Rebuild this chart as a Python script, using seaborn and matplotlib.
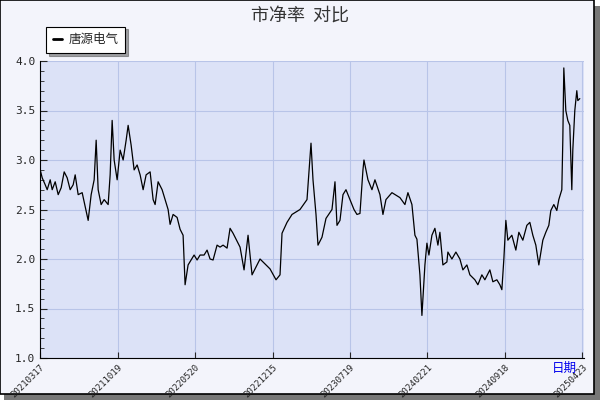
import matplotlib
matplotlib.use("Agg")
import matplotlib.pyplot as plt
import seaborn as sns
import pandas as pd
from matplotlib.ticker import MultipleLocator
from matplotlib.patches import Rectangle

px = [40,42,45,47,50,52,55,58,61,64,67,70,73,75,78,82,85,88,91,94,96,98,101,104,108,110,112,114,117,120,123,126,128,131,134,137,140,143,146,150,153,155,158,162,165,168,170,173,177,180,183,185,188,191,194,197,200,204,207,210,213,217,220,223,227,230,233,
      236,240,244,248,252,260,270,276,280,282,287,292,300,307,311,313,316,318,322,326,332,335,337,340,343,346,350,354,357,360,363,364,368,372,375,380,383,386,392,400,405,408,412,415,417,420,422,425,
      427,429,432,435,438,440,443,447,448,452,456,460,463,467,470,475,478,482,485,490,493,497,500,502,504,506,508,512,516,519,523,527,530,533,536,539,543,546,549,551,554,557,559,562,563,564,566,568,570,572,573,575,577,578,580]
value = [2.9,2.82,2.75,2.7,2.8,2.7,2.78,2.65,2.72,2.88,2.82,2.7,2.75,2.85,2.65,2.67,2.53,2.39,2.65,2.8,3.2,2.7,2.55,2.6,2.55,2.85,3.4,3.0,2.8,3.1,3.0,3.2,3.35,3.15,2.9,2.95,2.85,2.7,2.85,2.88,2.6,2.55,2.78,2.7,2.6,2.5,2.35,2.45,2.42,2.3,2.24,1.74,1.94,1.99,2.04,1.99,2.04,2.04,2.09,2.0,1.99,2.14,2.12,2.14,2.11,2.31,2.26,
         2.2,2.12,1.89,2.24,1.84,2.0,1.9,1.79,1.84,2.26,2.37,2.45,2.5,2.6,3.17,2.8,2.45,2.14,2.22,2.41,2.5,2.78,2.34,2.39,2.65,2.7,2.6,2.5,2.45,2.46,2.9,3.0,2.8,2.7,2.8,2.65,2.45,2.6,2.67,2.62,2.55,2.67,2.55,2.24,2.2,1.84,1.43,1.94,
         2.16,2.04,2.24,2.31,2.14,2.27,1.94,1.97,2.07,2.0,2.07,2.0,1.89,1.94,1.84,1.79,1.74,1.84,1.79,1.89,1.77,1.79,1.74,1.69,2.0,2.39,2.19,2.24,2.09,2.27,2.19,2.34,2.37,2.24,2.14,1.94,2.19,2.27,2.34,2.49,2.55,2.49,2.6,2.7,3.2,3.93,3.5,3.4,3.35,2.7,3.1,3.5,3.7,3.6,3.62]
tick_days = [0,155,310,465,620,775,930,1085]
tick_labels = ["20210317","20211019","20220520","20221215","20230719","20240221","20240918","20250423"]
series_name = "唐源电气"

day = [(p - 40) * 2 for p in px]
df = pd.DataFrame({"day": day, "value": value})

sns.set_style("white")
plt.rcParams['font.family'] = ['Noto Sans CJK SC', 'DejaVu Sans']

fig = plt.figure(figsize=(6, 4), dpi=100, facecolor="#f3f4fb")
ax = fig.add_axes([0.067, 0.105, 0.906, 0.7425])
ax.set_facecolor("#dce2f7")
sns.lineplot(data=df, x="day", y="value", ax=ax, color="black", linewidth=0.9, label=series_name)

ax.set_xlim(0, 1088)
ax.set_ylim(1.0, 4.0)
ax.set_xticks(tick_days)
ax.set_xticklabels(tick_labels, rotation=45, ha="right", va="top", rotation_mode="anchor",
                   fontsize=6.5, family="DejaVu Sans Mono")
ax.yaxis.set_major_locator(MultipleLocator(0.5))
ax.yaxis.set_minor_locator(MultipleLocator(0.1))
ax.yaxis.set_major_formatter(matplotlib.ticker.FormatStrFormatter("%.1f"))
for t in ax.get_yticklabels():
    t.set_family("DejaVu Sans Mono"); t.set_fontsize(8)
ax.tick_params(axis="y", which="major", direction="in", length=5, left=True)
ax.tick_params(axis="y", which="minor", direction="in", length=3, left=True)
ax.tick_params(axis="x", direction="in", length=4, bottom=True, pad=3)
ax.grid(True, color="#b8c4e8", linewidth=0.8)
for s in ["top", "right"]:
    ax.spines[s].set_visible(False)
ax.spines["left"].set_color("black")
ax.spines["bottom"].set_color("black")
ax.set_xlabel("")
ax.set_ylabel("")

leg = ax.legend(loc="lower left", bbox_to_anchor=(0.0, 1.005), frameon=True, fancybox=False,
                fontsize=9, handlelength=0.7, borderpad=0.55, handletextpad=0.5, shadow=True)
leg.get_frame().set_edgecolor("black")
leg.get_frame().set_linewidth(0.8)
for l in leg.get_lines():
    l.set_linewidth(2)

fig.text(0.5, 0.962, "市净率  对比", ha="center", va="center", fontsize=13, color="#333333")
fig.text(0.962, 0.095, "日期", ha="right", va="top", fontsize=9, color="#0000ee")

fig.patches.append(Rectangle((0.006, 0.0), 0.994, 0.985, transform=fig.transFigure, facecolor="#777777", edgecolor="none", zorder=-2))
fig.patches.append(Rectangle((0.0, 0.015), 0.99, 0.985, transform=fig.transFigure, facecolor="#f3f4fb", edgecolor="black", linewidth=1.2, zorder=-1))

fig.savefig("out.png", dpi=100, facecolor="#ffffff")
